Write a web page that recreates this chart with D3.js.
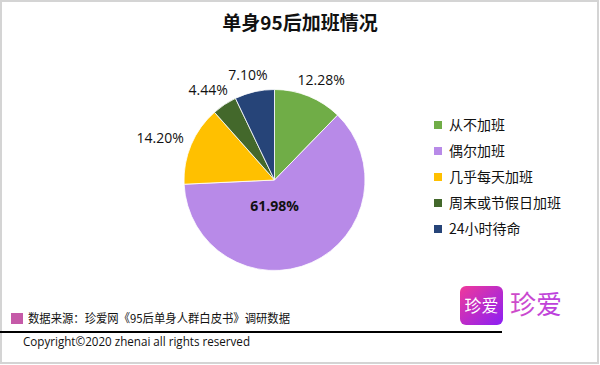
<!DOCTYPE html>
<html><head><meta charset="utf-8">
<script src="https://cdn.jsdelivr.net/npm/d3@7"></script>
<style>body{margin:0;background:#fff}svg{display:block}</style>
</head><body>
<svg id="c" width="600" height="365"></svg>
<script>
const categories = ["从不加班","偶尔加班","几乎每天加班","周末或节假日加班","24小时待命"];
const values = [12.28, 61.98, 14.20, 4.44, 7.10];
const colors = ["#70ad47","#b88ae8","#ffc000","#43682b","#264478"];
const title = "单身95后加班情况";
const source = "数据来源：珍爱网《95后单身人群白皮书》调研数据";
const copyright = "Copyright©2020 zhenai all rights reserved";

const svg = d3.select("#c");
const FONT = "'Open Sans','Noto Sans CJK SC',sans-serif";
const CJK = "'Noto Sans CJK SC','Open Sans',sans-serif";

// frame
svg.append("rect").attr("x",1).attr("y",1).attr("width",597).attr("height",362)
  .attr("fill","#fff").attr("stroke","#d4d4d4").attr("stroke-width",2);

svg.append("text").attr("x",300).attr("y",30).attr("text-anchor","middle")
  .attr("font-family",CJK).attr("font-weight","bold").attr("font-size",19)
  .attr("fill","#111").text(title);

const cx=274.5, cy=180, r=90.5;
const pie = d3.pie().sort(null).value(d=>d);
const arcs = pie(values);
const arc = d3.arc().innerRadius(0).outerRadius(r);
const g = svg.append("g").attr("transform",`translate(${cx},${cy})`);
g.selectAll("path").data(arcs).join("path")
  .attr("d",arc).attr("fill",(d,i)=>colors[i])
  .attr("stroke","#fff").attr("stroke-width",0.8);

const fmt = v => v.toFixed(2)+"%";
arcs.forEach((d,i)=>{
  const a=(d.startAngle+d.endAngle)/2;
  if(i===1){
    g.append("text").attr("x",0).attr("y",31).attr("text-anchor","middle")
      .attr("font-family",FONT).attr("font-weight","bold").attr("font-size",14)
      .attr("fill","#111").text(fmt(values[i]));
    return;
  }
  const t=g.append("text").attr("font-family",FONT).attr("font-size",14)
    .attr("fill","#111").attr("text-anchor","middle").text(fmt(values[i]));
  const w=t.node().getComputedTextLength();
  const rr=r+10;
  const x=Math.sin(a)*rr + Math.sin(a)*w/2;
  const y=-Math.cos(a)*rr - Math.cos(a)*7;
  t.attr("x",x).attr("y",y+5);
});

// legend
const lg = svg.append("g");
categories.forEach((c,i)=>{
  const y=125+i*26;
  lg.append("rect").attr("x",434).attr("y",y-4).attr("width",8).attr("height",8).attr("fill",colors[i]);
  lg.append("text").attr("x",449).attr("y",y+5).attr("font-family",CJK).attr("font-size",14)
    .attr("fill","#111").text(c);
});

// footer
svg.append("rect").attr("x",11).attr("y",313).attr("width",12).attr("height",11).attr("fill","#c55aa8");
svg.append("text").attr("x",28).attr("y",323).attr("font-family",CJK).attr("font-size",12)
  .attr("textLength",262).attr("lengthAdjust","spacingAndGlyphs")
  .attr("fill","#111").text(source);
svg.append("line").attr("x1",0).attr("x2",502).attr("y1",332).attr("y2",332)
  .attr("stroke","#000").attr("stroke-width",2);
svg.append("text").attr("x",23).attr("y",346).attr("font-family",FONT).attr("font-size",13.5)
  .attr("textLength",227).attr("lengthAdjust","spacingAndGlyphs")
  .attr("fill","#111").text(copyright);

// logo
const defs=svg.append("defs");
const gr=defs.append("linearGradient").attr("id","lg1").attr("x1","0").attr("y1","0").attr("x2","1").attr("y2","1");
gr.append("stop").attr("offset","0").attr("stop-color","#f0399a");
gr.append("stop").attr("offset","1").attr("stop-color","#8b1ff5");
const gr2=defs.append("linearGradient").attr("id","lg2").attr("x1","0").attr("y1","0").attr("x2","1").attr("y2","0");
gr2.append("stop").attr("offset","0").attr("stop-color","#d04cc8");
gr2.append("stop").attr("offset","1").attr("stop-color","#b93ee0");
svg.append("rect").attr("x",460).attr("y",286).attr("width",43).attr("height",39).attr("rx",6)
  .attr("fill","url(#lg1)");
svg.append("text").attr("x",481.5).attr("y",312).attr("text-anchor","middle").attr("font-family",CJK)
  .attr("font-size",17).attr("fill","#fff").text("珍爱");
svg.append("text").attr("x",510).attr("y",314).attr("font-family",CJK)
  .attr("font-size",26).attr("fill","url(#lg2)").text("珍爱");
</script>
</body></html>
